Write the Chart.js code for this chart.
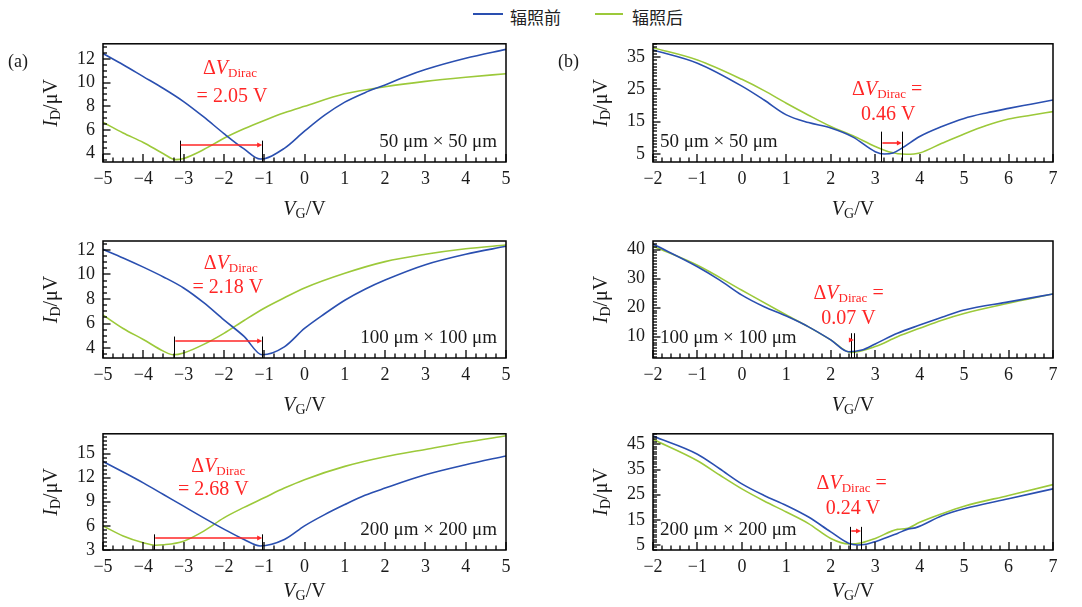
<!DOCTYPE html>
<html>
<head>
<meta charset="utf-8">
<script src="https://cdn.jsdelivr.net/npm/chart.js@4.4.1/dist/chart.umd.min.js"></script>
<style>
  body { margin: 0; width: 1082px; height: 607px; position: relative; background: #fff; overflow: hidden; }
  canvas { position: absolute; }
  .lg-line { position: absolute; top: 13px; height: 2px; }
  .lg-text { position: absolute; top: 4px; line-height: 22px; font: 17px "Noto Sans CJK SC"; color: #222; }
</style>
</head>
<body>
<div class="lg-line" style="left:473px;width:30px;background:#2a4fb0"></div>
<div class="lg-text" style="left:510px">辐照前</div>
<div class="lg-line" style="left:595px;width:28px;background:#9cc93a"></div>
<div class="lg-text" style="left:632px">辐照后</div>

<canvas id="a1" width="540" height="195" style="left:0;top:25px"></canvas>
<canvas id="b1" width="542" height="195" style="left:540px;top:25px"></canvas>
<canvas id="a2" width="540" height="195" style="left:0;top:220px"></canvas>
<canvas id="b2" width="542" height="195" style="left:540px;top:220px"></canvas>
<canvas id="a3" width="540" height="192" style="left:0;top:415px"></canvas>
<canvas id="b3" width="542" height="192" style="left:540px;top:415px"></canvas>

<script>
// ---- data ----
const seriesNames = ['辐照前', '辐照后'];
const sizeLabels = ['50 μm × 50 μm', '100 μm × 100 μm', '200 μm × 200 μm'];

const xTicksA = [-5, -4, -3, -2, -1, 0, 1, 2, 3, 4, 5];
const xTicksB = [-2, -1, 0, 1, 2, 3, 4, 5, 6, 7];
const yTicksA1 = [4, 6, 8, 10, 12];
const yTicksA2 = [4, 6, 8, 10, 12];
const yTicksA3 = [3, 6, 9, 12, 15];
const yTicksB1 = [5, 15, 25, 35];
const yTicksB2 = [10, 20, 30, 40];
const yTicksB3 = [5, 15, 25, 35, 45];

// (a) 50 um
const vgA1Before = [-5, -4.5, -4, -3.5, -3, -2.5, -2, -1.5, -1.1, -0.5, 0, 0.5, 1, 1.5, 2, 2.5, 3, 4, 5];
const idA1Before = [12.45, 11.5, 10.5, 9.5, 8.4, 7.1, 5.7, 4.4, 3.55, 4.45, 5.9, 7.25, 8.35, 9.15, 9.8, 10.5, 11.1, 12.05, 12.8];
const vgA1After = [-5, -4.5, -4, -3.5, -3.2, -3, -2.5, -2, -1.5, -1, -0.5, 0, 1, 2, 3, 4, 5];
const idA1After = [6.65, 5.75, 4.95, 4.0, 3.5, 3.6, 4.35, 5.3, 6.1, 6.8, 7.45, 8.0, 9.05, 9.65, 10.1, 10.45, 10.75];

// (b) 50 um
const vgB1Before = [-2, -1, 0, 0.5, 1, 1.5, 2, 2.5, 3, 3.2, 3.4, 3.6, 4, 4.5, 5, 5.5, 6, 6.5, 7];
const idB1Before = [37.2, 33.1, 26.0, 21.7, 17.1, 14.7, 13.0, 10.2, 5.7, 5.0, 5.3, 6.8, 10.4, 13.5, 16.0, 17.7, 19.1, 20.4, 21.7];
const vgB1After = [-2, -1, 0, 0.5, 1, 1.5, 2, 2.5, 3, 3.3, 3.7, 4, 4.5, 5, 5.5, 6, 6.5, 7];
const idB1After = [37.9, 34.1, 28.1, 24.6, 20.7, 17.0, 13.5, 10.6, 7.3, 5.7, 4.9, 5.3, 8.3, 11.2, 13.8, 15.8, 17.0, 18.1];

// (a) 100 um
const vgA2Before = [-5, -4.5, -4, -3.5, -3, -2.5, -2, -1.5, -1.05, -0.5, 0, 0.5, 1, 1.5, 2, 3, 4, 5];
const idA2Before = [12.05, 11.35, 10.6, 9.8, 8.9, 7.7, 6.3, 4.95, 3.45, 4.1, 5.6, 6.8, 7.9, 8.8, 9.55, 10.8, 11.65, 12.3];
const vgA2After = [-5, -4.5, -4, -3.5, -3.25, -3, -2.5, -2, -1.5, -1, -0.5, 0, 1, 2, 3, 4, 5];
const idA2After = [6.7, 5.6, 4.7, 3.75, 3.45, 3.6, 4.3, 5.2, 6.25, 7.25, 8.1, 8.9, 10.1, 11.05, 11.65, 12.1, 12.4];

// (b) 100 um
const vgB2Before = [-2, -1, -0.5, 0, 0.5, 1, 1.5, 2, 2.4, 2.7, 3, 3.5, 4, 4.5, 5, 6, 7];
const idB2Before = [41.9, 34.1, 29.5, 24.3, 20.3, 17.1, 13.4, 8.9, 4.8, 5.4, 7.5, 11.2, 14.0, 16.7, 19.2, 22.0, 24.7];
const vgB2After = [-2, -1, 0, 1, 1.5, 2, 2.45, 3, 3.5, 4, 4.5, 5, 6, 7];
const idB2After = [41.2, 34.6, 26.0, 17.5, 13.4, 8.9, 4.6, 6.6, 10.0, 12.9, 15.7, 18.0, 21.5, 24.7];

// (a) 200 um
const vgA3Before = [-5, -4.5, -4, -3.5, -3, -2.5, -2, -1.5, -1.1, -0.5, 0, 0.5, 1, 1.5, 2, 3, 4, 5];
const idA3Before = [14.0, 12.7, 11.35, 9.9, 8.45, 7.0, 5.6, 4.3, 3.5, 4.3, 6.0, 7.4, 8.65, 9.8, 10.7, 12.35, 13.6, 14.7];
const vgA3After = [-5, -4.5, -4, -3.7, -3.5, -3, -2.5, -2, -1.5, -1, -0.5, 0, 1, 2, 3, 4, 5];
const idA3After = [6.0, 4.75, 3.9, 3.6, 3.65, 4.1, 5.35, 7.0, 8.3, 9.5, 10.7, 11.75, 13.4, 14.6, 15.5, 16.4, 17.2];

// (b) 200 um
const vgB3Before = [-2, -1, -0.5, 0, 0.5, 1, 1.5, 2, 2.4, 2.6, 2.8, 3, 3.5, 3.75, 3.9, 4.5, 5, 6, 7];
const idB3Before = [48.3, 41.1, 35.3, 29.3, 24.7, 20.7, 16.1, 10.2, 5.7, 5.0, 5.3, 6.3, 9.6, 11.4, 11.8, 16.6, 19.4, 23.4, 27.3];
const vgB3After = [-2, -1, -0.5, 0, 0.5, 1, 1.5, 2, 2.4, 2.7, 3, 3.5, 3.7, 4, 4.5, 5, 6, 7];
const idB3After = [47.0, 38.5, 32.8, 27.3, 22.5, 18.1, 13.5, 7.6, 5.4, 5.9, 7.6, 11.2, 11.5, 14.0, 17.4, 20.4, 24.7, 29.0];

// Dirac points (before/after) and shift labels
const diracA1 = [-3.1, -1.05], deltaA1 = '= 2.05 V';
const diracB1 = [3.14, 3.6], deltaB1 = '0.46 V';
const diracA2 = [-3.23, -1.05], deltaA2 = '= 2.18 V';
const diracB2 = [2.45, 2.52], deltaB2 = '0.07 V';
const diracA3 = [-3.73, -1.05], deltaA3 = '= 2.68 V';
const diracB3 = [2.44, 2.68], deltaB3 = '0.24 V';

// ---- styling ----
const BLUE = '#2a4fb0', GREEN = '#9cc93a', RED = '#ff2626', INK = '#1a1a1a';
const SERIF = '"Liberation Serif", "DejaVu Serif", serif';

const zip = (xs, ys) => xs.map((v, i) => ({ x: v, y: ys[i] }));
const fmt = v => (v < 0 ? '\u2212' + Math.abs(v) : String(v));

function rich(ctx, parts, x, y, align) {
  let w = 0;
  parts.forEach(q => { ctx.font = q[1]; w += ctx.measureText(q[0]).width; });
  let cx = align === 'center' ? x - w / 2 : align === 'right' ? x - w : x;
  ctx.textAlign = 'left';
  ctx.textBaseline = 'middle';
  parts.forEach(q => {
    ctx.font = q[1];
    ctx.fillText(q[0], cx, y + (q[2] || 0));
    cx += ctx.measureText(q[0]).width;
  });
}

function deco(p) {
  return {
    id: 'deco',
    afterDraw(chart) {
      const ctx = chart.ctx, a = chart.chartArea;
      const xs = chart.scales.x, ys = chart.scales.y;
      ctx.save();

      // inward tick marks on the bottom axis
      ctx.strokeStyle = '#000';
      ctx.lineWidth = 1.3;
      const nx = Math.round((p.xMax - p.xMin) / p.xMinor);
      for (let i = 0; i <= nx; i++) {
        const v = p.xMin + i * p.xMinor;
        const px = Math.round(xs.getPixelForValue(v));
        const major = Math.abs(v - Math.round(v)) < 1e-6;
        ctx.beginPath();
        ctx.moveTo(px, a.bottom);
        ctx.lineTo(px, a.bottom - (major ? 8 : 4.5));
        ctx.stroke();
      }
      // and on the left axis
      const k0 = Math.ceil(p.yMin / p.yMinor - 1e-9), k1 = Math.floor(p.yMax / p.yMinor + 1e-9);
      for (let k = k0; k <= k1; k++) {
        const v = k * p.yMinor;
        const py = Math.round(ys.getPixelForValue(v));
        const major = p.yTicks.some(t => Math.abs(t - v) < 1e-6);
        ctx.beginPath();
        ctx.moveTo(a.left, py);
        ctx.lineTo(a.left + (major ? 7.5 : 4), py);
        ctx.stroke();
      }

      // frame
      ctx.lineWidth = 1.5;
      ctx.strokeRect(a.left, a.top, a.right - a.left, a.bottom - a.top);

      // axis titles
      ctx.fillStyle = INK;
      rich(ctx, [['V', 'italic 20px ' + SERIF], ['G', '14px ' + SERIF, 4], ['/V', '20px ' + SERIF]],
        (a.left + a.right) / 2, a.bottom + p.xTitleOff, 'center');
      ctx.save();
      ctx.translate(a.left - 51, (a.top + a.bottom) / 2);
      ctx.rotate(-Math.PI / 2);
      rich(ctx, [['I', 'italic 20px ' + SERIF], ['D', '14px ' + SERIF, 4], ['/μV', '20px ' + SERIF]], 0, 0, 'center');
      ctx.restore();

      // panel letter
      if (p.letter) rich(ctx, [[p.letter, '18px ' + SERIF]], p.letterX, 37, 'left');

      // device size label
      if (p.sizeRight) rich(ctx, [[p.size, '19px ' + SERIF]], a.right - 9, a.bottom - 20, 'right');
      else rich(ctx, [[p.size, '19px ' + SERIF]], a.left + 7, a.bottom - 20, 'left');

      // Dirac point markers
      const an = p.ann;
      ctx.strokeStyle = '#000';
      ctx.lineWidth = 1;
      ctx.beginPath();
      an.dirac.forEach(d => {
        const px = Math.round(xs.getPixelForValue(d)) + 0.5;
        ctx.moveTo(px, ys.getPixelForValue(an.top));
        ctx.lineTo(px, a.bottom);
      });
      ctx.stroke();
      const ay = Math.round(ys.getPixelForValue(an.arrowY));
      const x1 = xs.getPixelForValue(an.dirac[0]), x2 = xs.getPixelForValue(an.dirac[1]);
      ctx.strokeStyle = RED;
      ctx.fillStyle = RED;
      ctx.lineWidth = 1.6;
      ctx.beginPath();
      ctx.moveTo(x1 + 1, ay);
      ctx.lineTo(x2 - 2, ay);
      ctx.stroke();
      ctx.beginPath();
      ctx.moveTo(x2, ay);
      ctx.lineTo(x2 - 5, ay - 2.5);
      ctx.lineTo(x2 - 5, ay + 2.5);
      ctx.closePath();
      ctx.fill();

      const line1 = [['Δ', '20px ' + SERIF], ['V', 'italic 20px ' + SERIF], ['Dirac', '13px ' + SERIF, 5]];
      if (an.eqFirst) line1.push([' =', '20px ' + SERIF]);
      rich(ctx, line1, xs.getPixelForValue(an.t1[0]), ys.getPixelForValue(an.t1[1]), 'center');
      rich(ctx, [[an.label, '20px ' + SERIF]], xs.getPixelForValue(an.t2[0]), ys.getPixelForValue(an.t2[1]), 'center');

      ctx.restore();
    }
  };
}

const left = { xMin: -5, xMax: 5, xTicks: xTicksA, xMinor: 0.25, padR: 34, yW: 103, sizeRight: true };
const right = { xMin: -2, xMax: 7, xTicks: xTicksB, xMinor: 0.2, padR: 29, yW: 113, sizeRight: false };

const panels = [
  Object.assign({}, left, { id: 'a1', padT: 18, xH: 58, xTitleOff: 48, yMin: 3.3, yMax: 13.27, yTicks: yTicksA1, yMinor: 0.5,
    bx: vgA1Before, by: idA1Before, ax: vgA1After, ay: idA1After, size: sizeLabels[0], letter: '(a)', letterX: 8,
    ann: { dirac: diracA1, top: 5.1, arrowY: 4.73, label: deltaA1, t1: [-1.85, 11.17], t2: [-1.8, 8.8] } }),
  Object.assign({}, right, { id: 'b1', padT: 18, xH: 58, xTitleOff: 48, yMin: 2.5, yMax: 39.1, yTicks: yTicksB1, yMinor: 1,
    bx: vgB1Before, by: idB1Before, ax: vgB1After, ay: idB1After, size: sizeLabels[0], letter: '(b)', letterX: 18,
    ann: { dirac: diracB1, top: 11.9, arrowY: 8.5, label: deltaB1, eqFirst: true, t1: [3.27, 25.0], t2: [3.29, 17.1] } }),
  Object.assign({}, left, { id: 'a2', padT: 21, xH: 57, xTitleOff: 48, yMin: 3.19, yMax: 12.73, yTicks: yTicksA2, yMinor: 0.5,
    bx: vgA2Before, by: idA2Before, ax: vgA2After, ay: idA2After, size: sizeLabels[1],
    ann: { dirac: diracA2, top: 4.94, arrowY: 4.6, label: deltaA2, t1: [-1.83, 10.9], t2: [-1.9, 8.88] } }),
  Object.assign({}, right, { id: 'b2', padT: 21, xH: 57, xTitleOff: 48, yMin: 2.67, yMax: 42.96, yTicks: yTicksB2, yMinor: 1,
    bx: vgB2Before, by: idB2Before, ax: vgB2After, ay: idB2After, size: sizeLabels[1],
    ann: { dirac: diracB2, top: 11.2, arrowY: 8.9, label: deltaB2, eqFirst: true, t1: [2.4, 24.9], t2: [2.4, 16.3] } }),
  Object.assign({}, left, { id: 'a3', padT: 18, xH: 57, xTitleOff: 42, yMin: 3, yMax: 17.45, yTicks: yTicksA3, yMinor: 0.5,
    bx: vgA3Before, by: idA3Before, ax: vgA3After, ay: idA3After, size: sizeLabels[2],
    ann: { dirac: diracA3, top: 4.95, arrowY: 4.45, label: deltaA3, t1: [-2.14, 13.4], t2: [-2.26, 10.5] } }),
  Object.assign({}, right, { id: 'b3', padT: 18, xH: 57, xTitleOff: 42, yMin: 3, yMax: 49.2, yTicks: yTicksB3, yMinor: 1,
    bx: vgB3Before, by: idB3Before, ax: vgB3After, ay: idB3After, size: sizeLabels[2],
    ann: { dirac: diracB3, top: 12.2, arrowY: 10.6, label: deltaB3, eqFirst: true, t1: [2.47, 29.3], t2: [2.5, 19.4] } })
];

const tickFont = { family: SERIF, size: 18 };

panels.forEach(p => {
  new Chart(document.getElementById(p.id), {
    type: 'line',
    data: {
      datasets: [
        { label: seriesNames[0], data: zip(p.bx, p.by), borderColor: BLUE },
        { label: seriesNames[1], data: zip(p.ax, p.ay), borderColor: GREEN }
      ]
    },
    options: {
      responsive: false,
      animation: false,
      devicePixelRatio: 1,
      layout: { padding: { left: 0, right: p.padR, top: p.padT, bottom: 0 } },
      plugins: { legend: { display: false }, tooltip: { enabled: false } },
      elements: {
        point: { radius: 0 },
        line: { borderWidth: 1.6, cubicInterpolationMode: 'monotone', fill: false }
      },
      scales: {
        x: {
          type: 'linear', min: p.xMin, max: p.xMax,
          grid: { display: false, drawTicks: false }, border: { display: false },
          afterBuildTicks: s => { s.ticks = p.xTicks.map(v => ({ value: v })); },
          afterFit: s => { s.height = p.xH; },
          ticks: { font: tickFont, color: INK, padding: 6, autoSkip: false, maxRotation: 0, callback: v => fmt(v) }
        },
        y: {
          type: 'linear', min: p.yMin, max: p.yMax,
          grid: { display: false, drawTicks: false }, border: { display: false },
          afterBuildTicks: s => { s.ticks = p.yTicks.map(v => ({ value: v })); },
          afterFit: s => { s.width = p.yW; },
          ticks: { font: tickFont, color: INK, padding: 8, autoSkip: false, callback: v => fmt(v) }
        }
      }
    },
    plugins: [deco(p)]
  });
});
</script>
</body>
</html>
